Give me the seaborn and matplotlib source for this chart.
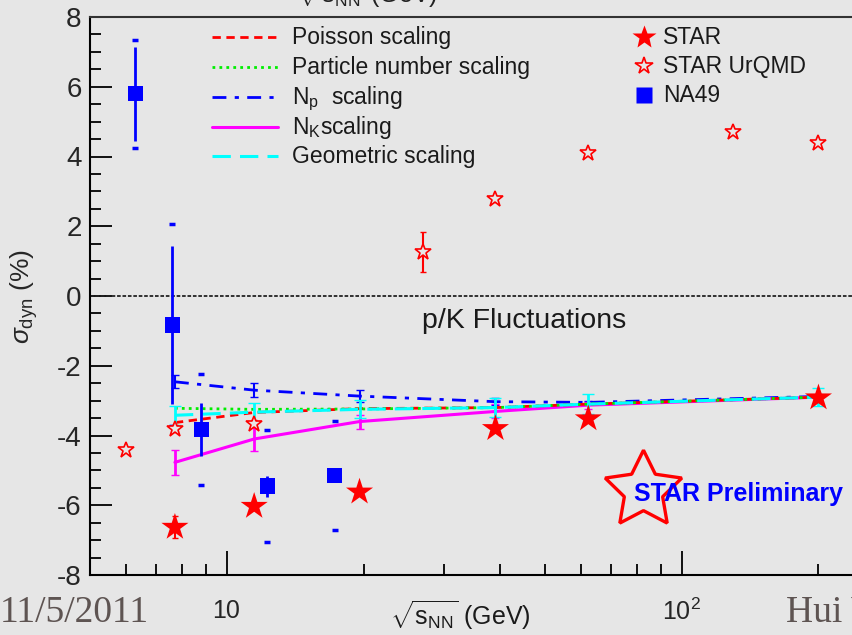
import numpy as np
import pandas as pd
import seaborn as sns
import matplotlib.pyplot as plt
from matplotlib.lines import Line2D
from matplotlib.ticker import FixedLocator, FuncFormatter, MultipleLocator, LogLocator, NullFormatter

# data
energy = [7.7, 11.5, 19.6, 39, 62.4, 200]
poisson = [-3.63, -3.34, -3.23, -3.20, -3.10, -2.90]
particle = [-3.22, -3.25, -3.24, -3.20, -3.10, -2.90]
np_scaling = [-2.46, -2.70, -2.87, -3.03, -3.05, -2.88]
np_err = [0.19, 0.20, 0.17, 0.10, 0.05, 0.05]
nk_scaling = [-4.77, -4.10, -3.60, -3.31, -3.13, -2.90]
nk_err = [0.36, 0.35, 0.20, 0.20, 0.10, 0.10]
geom = [-3.42, -3.33, -3.25, -3.20, -3.10, -2.90]
geom_err = [0.27, 0.27, 0.26, 0.28, 0.28, 0.25]

star_sigma = [-6.63, -6.03, -5.62, -3.80, -3.52, -2.92]
star_err = [0.32, 0.10, 0.10, 0.10, 0.10, 0.10]

urqmd_energy = [6.0, 7.7, 11.5, 27, 39, 62.4, 130, 200]
urqmd_sigma = [-4.42, -3.80, -3.66, 1.26, 2.77, 4.09, 4.69, 4.40]
urqmd_err = [0.05, 0.10, 0.10, 0.57, 0.08, 0.08, 0.08, 0.08]

na49_energy = [6.3, 7.6, 8.8, 12.3, 17.3]
na49_sigma = [5.80, -0.83, -3.83, -5.45, -5.15]
na49_stat = [1.35, 2.26, 0.75, 0.30, 0.15]
na49_sys = [1.55, 2.90, 1.60, 1.60, 1.57]

model_labels = ["Poisson scaling", "Particle number scaling", r"N$_{\mathrm{p}}$  scaling",
                r"N$_{\mathrm{K}}$scaling", "Geometric scaling"]
data_labels = ["STAR", "STAR UrQMD", "NA49"]

sns.set_theme(style="ticks")
plt.rcParams["font.family"] = ["Liberation Sans", "DejaVu Sans"]
plt.rcParams["mathtext.fontset"] = "custom"
plt.rcParams["mathtext.rm"] = "Liberation Sans"
plt.rcParams["mathtext.it"] = "Liberation Sans:italic"
plt.rcParams["mathtext.sf"] = "Liberation Sans"
plt.rcParams["axes.unicode_minus"] = False

bg = "#e6e6e6"
fig = plt.figure(figsize=(8.52, 6.35), dpi=100, facecolor=bg)
ax = fig.add_axes([90 / 852, 60 / 635, 762 / 852, 558 / 635])
ax.set_facecolor("none")
ax.set_xscale("log")

# line styles for the five scalings
styles = [dict(color="red", lw=2, ls=(0, (3, 2))),
          dict(color="#00ee00", lw=2, ls=(0, (1, 1.5))),
          dict(color="blue", lw=2, ls=(0, (5, 3, 1.5, 3))),
          dict(color="magenta", lw=2.2, ls="-"),
          dict(color="cyan", lw=2.2, ls=(0, (6, 3)))]

# zero line
ax.axhline(0, color="#222222", lw=1.3, ls=(0, (2, 1)), zorder=1)

# scaling curves
ax.errorbar(energy, np_scaling, yerr=np_err, fmt="none", ecolor="blue", elinewidth=1.5, capsize=3, zorder=3)
ax.errorbar(energy, nk_scaling, yerr=nk_err, fmt="none", ecolor="magenta", elinewidth=2, capsize=3, zorder=3)
ax.errorbar(energy, geom, yerr=geom_err, fmt="none", ecolor="cyan", elinewidth=2, capsize=4, zorder=4)
for yv, st, z in [(np_scaling, styles[2], 3), (nk_scaling, styles[3], 3), (poisson, styles[0], 3),
                  (particle, styles[1], 3), (geom, styles[4], 4)]:
    sns.lineplot(x=energy, y=yv, ax=ax, color=st["color"], lw=st["lw"], linestyle=st["ls"], sort=False, zorder=z)

# NA49
ax.errorbar(na49_energy, na49_sigma, yerr=na49_sys, fmt="none", ecolor="blue", elinewidth=0, capsize=2.5, capthick=2.5, zorder=5)
ax.errorbar(na49_energy, na49_sigma, yerr=na49_stat, fmt="none", ecolor="blue", elinewidth=2, zorder=5)
sns.scatterplot(x=na49_energy, y=na49_sigma, ax=ax, color="blue", marker="s", s=120, edgecolor="none", zorder=6)

# STAR data
ax.errorbar(energy, star_sigma, yerr=star_err, fmt="none", ecolor="red", elinewidth=1.5, capsize=2, zorder=5)
sns.scatterplot(x=energy, y=star_sigma, ax=ax, color="red", marker="*", s=420, edgecolor="none", zorder=6)

# STAR UrQMD
ax.errorbar(urqmd_energy, urqmd_sigma, yerr=urqmd_err, fmt="none", ecolor="red", elinewidth=1.5, capsize=2, zorder=5)
ax.plot(urqmd_energy, urqmd_sigma, ls="none", marker="*", ms=12, mfc=bg, mec="red", mew=1.2, zorder=6)

# axes styling
ax.set_xlim(5.01, 237)
ax.set_ylim(-8, 8)
ax.xaxis.set_major_locator(FixedLocator([10, 100]))
ax.xaxis.set_major_formatter(FuncFormatter(lambda v, p: "10" if v < 50 else "$10^2$"))
ax.xaxis.set_minor_locator(LogLocator(base=10, subs=np.arange(2, 10)))
ax.xaxis.set_minor_formatter(NullFormatter())
ax.yaxis.set_major_locator(MultipleLocator(2))
ax.yaxis.set_minor_locator(MultipleLocator(0.5))
ax.tick_params(axis="both", which="both", direction="in", color="black", width=1.3)
ax.tick_params(axis="x", which="major", length=17, pad=17, labelsize=18)
ax.tick_params(axis="x", which="minor", length=8)
ax.tick_params(axis="y", which="major", length=16, pad=6, labelsize=20)
ax.tick_params(axis="y", which="minor", length=8)
for side in ["left", "bottom", "top"]:
    ax.spines[side].set_color("black")
    ax.spines[side].set_linewidth(1.5)
ax.spines["top"].set_color("#333333")
ax.spines["right"].set_visible(False)
ax.grid(False)

ax.set_ylabel(r"$\sigma_{\mathrm{dyn}}$ (%)", fontsize=19)
ax.yaxis.set_label_coords(-50 / 762, 0.5)
fig.text(460 / 852, 1 - 625 / 635, r"$\sqrt{\mathrm{s_{NN}}}$ (GeV)", fontsize=18, ha="center", va="baseline",
         color="#1a1a1a")

fig.text(524 / 852, 1 - 321 / 635, "p/K Fluctuations", ha="center", va="center", fontsize=20.5, color="#1a1a1a")

# legends, laid out row by row in figure pixels
def fx(px):
    return px / 852

def fy(py):
    return 1 - py / 635

for i, (lab, st) in enumerate(zip(model_labels, styles)):
    y = [37, 67, 97, 127, 156][i]
    fig.add_artist(Line2D([fx(212), fx(278)], [fy(y), fy(y)], color=st["color"], lw=st["lw"], ls=st["ls"],
                          transform=fig.transFigure))
    fig.text(fx(292), fy(y + 7), lab, fontsize=16.5, va="baseline", color="#1a1a1a")

marker_kw = [dict(marker="*", ms=18, mfc="red", mec="none"),
             dict(marker="*", ms=13, mfc=bg, mec="red", mew=1.2),
             dict(marker="s", ms=11, mfc="blue", mec="none")]
for i, (lab, mk) in enumerate(zip(data_labels, marker_kw)):
    y = [37, 66, 95][i]
    fig.add_artist(Line2D([fx(644)], [fy(y)], ls="none", transform=fig.transFigure, **mk))
    fig.text(fx(663), fy(y + 7), lab, fontsize=16.5, va="baseline", color="#1a1a1a")

# STAR Preliminary logo
fig.add_artist(Line2D([fx(643)], [fy(490)], ls="none", marker=(5, 1, 0), ms=58,
                      mfc="none", mec="red", mew=2.4, transform=fig.transFigure))
fig.text(fx(738), fy(494), "STAR Preliminary", color="blue", fontsize=18, fontweight="bold",
         ha="center", va="center")

# slide decorations
fig.text(fx(367), fy(3), r"$\sqrt{\mathrm{s_{NN}}}$ (GeV)", fontsize=18, ha="center", va="baseline", color="#222222")
fig.text(fx(0), fy(622), "11/5/2011", family=["Liberation Serif", "DejaVu Serif"], fontsize=27,
         color="#5e5452", va="baseline")
fig.text(fx(786), fy(622), "Hui Wang", family=["Liberation Serif", "DejaVu Serif"], fontsize=27,
         color="#5e5452", va="baseline")

fig.savefig("out.png", dpi=100, facecolor=bg)
